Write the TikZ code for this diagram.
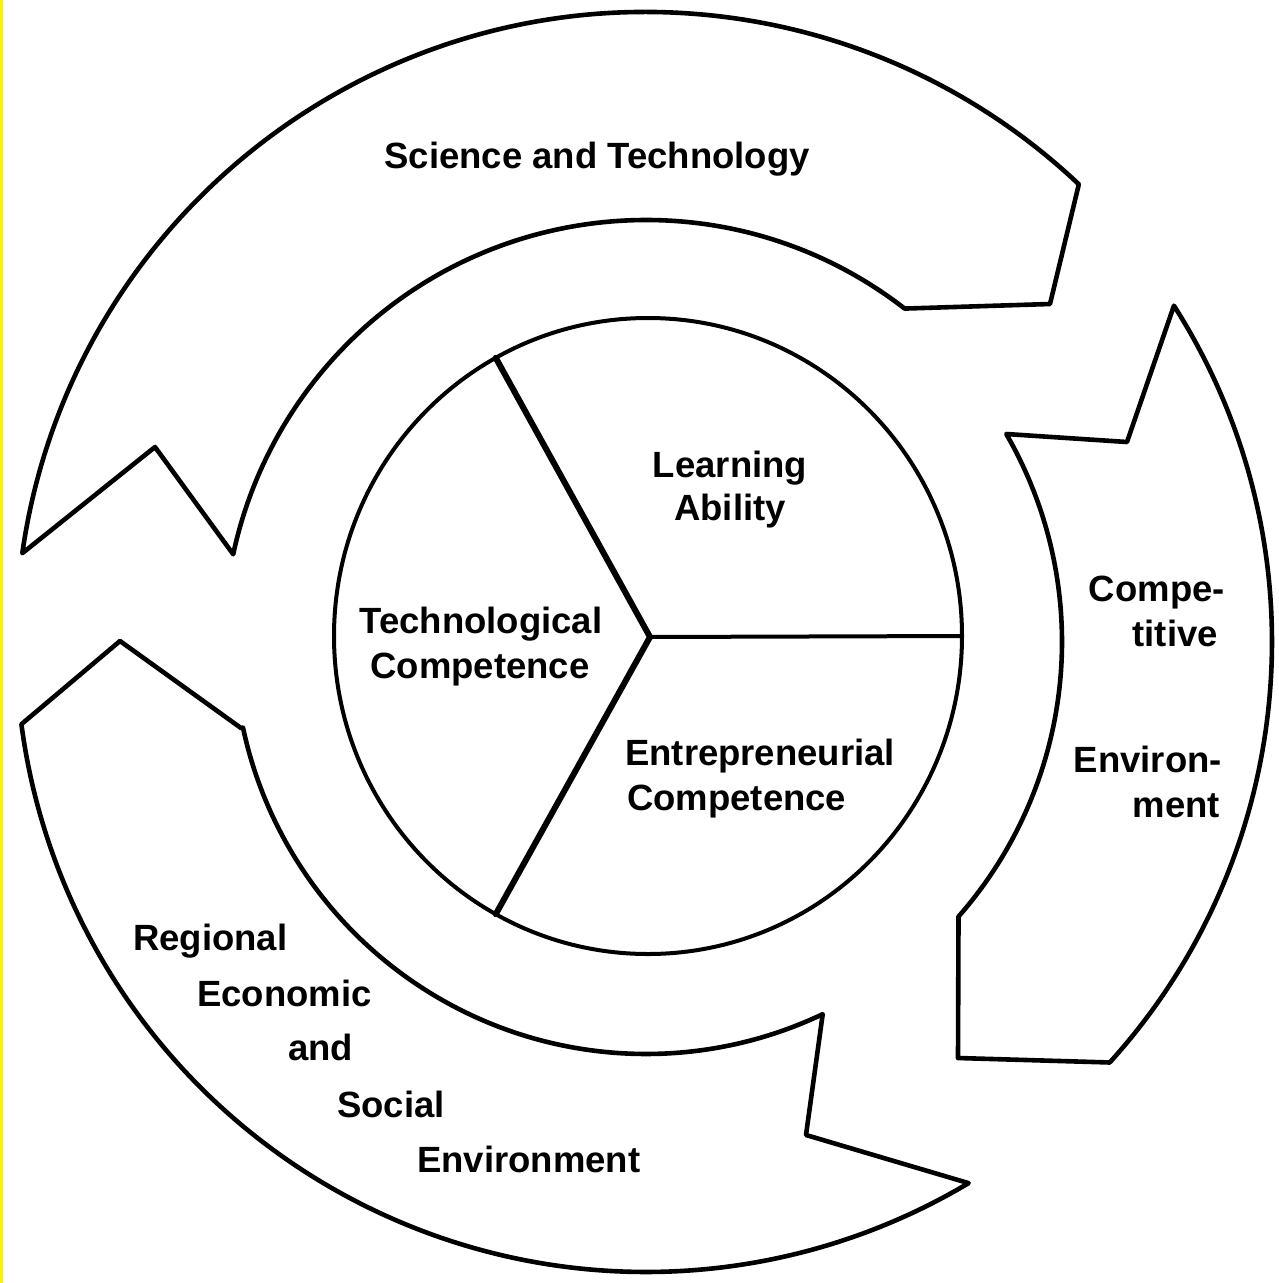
\documentclass[tikz,border=0pt]{standalone}
\usepackage{fontspec}
\setmainfont{Liberation Sans}
\usetikzlibrary{calc}
\begin{document}
\begin{tikzpicture}[x=1pt,y=1pt,
  band/.style={draw=black, line width=4.6pt, line join=round, line cap=round},
  ring/.style={draw=black, line width=4pt},
  divider/.style={draw=black, line width=6pt, line cap=round},
  thindiv/.style={draw=black, line width=4pt},
  lbl/.style={font=\fontsize{36.5}{45}\selectfont\bfseries, inner sep=0pt, text=black},
]
\useasboundingbox (0,0) rectangle (1278,-1283);
\fill[white] (0,0) rectangle (1278,-1283);
\fill[yellow] (0,0) rectangle (3,-1283);
\coordinate (O) at (646,-642);

% Science and Technology band
\draw[band] ($(O)+(171.9:630)$) arc[start angle=171.9,end angle=46.6,radius=630]
  -- (1050,-304)
  -- ($(O)+(52.2:422)$) arc[start angle=52.2,end angle=168,radius=422]
  -- (155,-447) -- cycle;

% Competitive Environment band
\draw[band] ($(O)+(30:416)$) -- (1127,-442)
  -- ($(O)+(32.5:626)$) arc[start angle=32.5,end angle=-42.2,radius=626]
  -- (958,-1058)
  -- ($(O)+(-41.3:416)$) arc[start angle=-41.3,end angle=30,radius=416] -- cycle;

% Regional band
\draw[band] ($(O)+(192:414)$) -- (120,-641)
  -- ($(O)+(187.5:630)$) arc[start angle=187.5,end angle=300.8,radius=630]
  -- (806,-1135)
  -- ($(O)+(295.4:412)$) arc[start angle=295.4,end angle=192,radius=412] -- cycle;

% central circle
\coordinate (K) at (648,-636);
\draw[ring] (K) ellipse[x radius=314,y radius=318];
\coordinate (M) at (650,-637);
\coordinate (dR) at ($(K)+(314,0)$);
\coordinate (dU) at ($(K)+({314*cos(119)},{318*sin(119)})$);
\coordinate (dD) at ($(K)+({314*cos(241)},{318*sin(241)})$);
\draw[thindiv] (M) -- (dR);
\draw[divider] (dU) -- (M) -- (dD);

% labels
\node[lbl, anchor=base] (sci) at (597,-168) {Science and Technology};
\node[lbl, anchor=base] (learn) at (730,-477) {Learning};
\node[lbl, anchor=base] (abil) at (730,-520) {Ability};
\node[lbl, anchor=base] (tech1) at (481,-633) {Technological};
\node[lbl, anchor=base] (tech2) at (480,-678) {Competence};
\node[lbl, anchor=base west] (ent1) at (625,-765) {Entrepreneurial};
\node[lbl, anchor=base west] (ent2) at (627,-810) {Competence};
\node[lbl, anchor=base east] (comp1) at (1225,-601) {Compe-};
\node[lbl, anchor=base east] (comp2) at (1218,-646) {titive};
\node[lbl, anchor=base east] (comp3) at (1222,-772) {Environ-};
\node[lbl, anchor=base east] (comp4) at (1220,-817) {ment};
\node[lbl, anchor=base west] (reg1) at (133,-950) {Regional};
\node[lbl, anchor=base west] (reg2) at (197,-1006) {Economic};
\node[lbl, anchor=base west] (reg3) at (288,-1060) {and};
\node[lbl, anchor=base west] (reg4) at (337,-1117) {Social};
\node[lbl, anchor=base west] (reg5) at (417,-1172) {Environment};
\end{tikzpicture}
\end{document}
